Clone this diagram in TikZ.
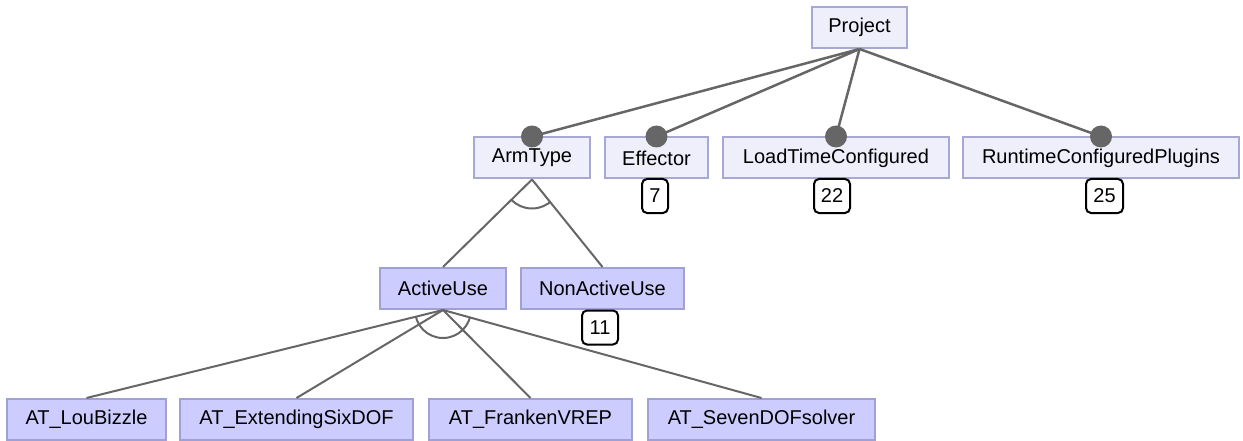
\documentclass[tikz,border=0pt]{standalone}
\usepackage{fontspec}
\setmainfont{Liberation Sans}
\usetikzlibrary{calc}
\definecolor{edgegray}{HTML}{666666}
\definecolor{lightfill}{HTML}{EFEFFC}
\definecolor{lightborder}{HTML}{A8A8D4}
\definecolor{darkfill}{HTML}{CCCCFF}
\definecolor{darkborder}{HTML}{A0A0D4}
\tikzset{
  feat/.style={draw=lightborder, fill=lightfill, line width=2pt, minimum height=41pt,
    inner sep=0pt, font=\fontsize{20}{24}\selectfont},
  absfeat/.style={feat, draw=darkborder, fill=darkfill},
  countbox/.style={draw=black, fill=white, line width=2pt, rounded corners=5pt,
    minimum height=34pt, inner sep=0pt, font=\fontsize{20}{24}\selectfont},
  link/.style={draw=edgegray, line width=2.5pt},
  groupline/.style={draw=edgegray, line width=2pt},
  mandatory/.style={fill=edgegray}
}
\begin{document}
\begin{tikzpicture}[x=1pt, y=-1pt]
\useasboundingbox (0,0) rectangle (1243,441);

% features
\node[feat, minimum width=95pt]  (project) at (859.5,27.5) {Project};
\node[feat, minimum width=116pt] (armtype) at (532,158) {ArmType};
\node[feat, minimum width=103pt] (effector) at (656.5,158) {Effector};
\node[feat, minimum width=226pt] (loadtime) at (836,158) {LoadTimeConfigured};
\node[feat, minimum width=276pt] (runtime) at (1101,158) {RuntimeConfiguredPlugins};
\node[absfeat, minimum width=126pt] (active) at (443,288.5) {ActiveUse};
\node[absfeat, minimum width=163pt] (nonactive) at (602.5,288.5) {NonActiveUse};
\node[absfeat, minimum width=159pt] (lou) at (86.5,419.5) {AT\_LouBizzle};
\node[absfeat, minimum width=233pt] (sixdof) at (296.5,419.5) {AT\_ExtendingSixDOF};
\node[absfeat, minimum width=203pt] (franken) at (530.5,419.5) {AT\_FrankenVREP};
\node[absfeat, minimum width=227pt] (sevendof) at (761.5,419.5) {AT\_SevenDOFsolver};

% counts of hidden children
\node[countbox, minimum width=26pt] (c7) at (655,196) {7};
\node[countbox, minimum width=36pt] (c22) at (832,196) {22};
\node[countbox, minimum width=37pt] (c25) at (1104.5,196) {25};
\node[countbox, minimum width=36pt] (c11) at (600,327.5) {11};

% mandatory children of Project
\foreach \f in {armtype,effector,loadtime,runtime}{
  \draw[link] (project.south) -- (\f.north);
}
\foreach \f in {armtype,effector,loadtime,runtime}{
  \fill[mandatory] (\f.north) circle (11pt);
}

% alternative group under ArmType
\draw[groupline] (armtype.south) -- (active.north);
\draw[groupline] (armtype.south) -- (nonactive.north);
\begin{scope}
  \clip (armtype.south) -- ($(armtype.south)!150pt!(active.north)$)
        -- ($(armtype.south)!150pt!(nonactive.north)$) -- cycle;
  \draw[groupline] (armtype.south) circle (29pt);
\end{scope}

% alternative group under ActiveUse
\foreach \f in {lou,sixdof,franken,sevendof}{
  \draw[groupline] (active.south) -- (\f.north);
}
\begin{scope}
  \clip (active.south) -- ($(active.south)!300pt!(lou.north)$)
        -- ($(active.south)!300pt!(sevendof.north)$) -- cycle;
  \draw[groupline] (active.south) circle (28pt);
\end{scope}
\end{tikzpicture}
\end{document}
